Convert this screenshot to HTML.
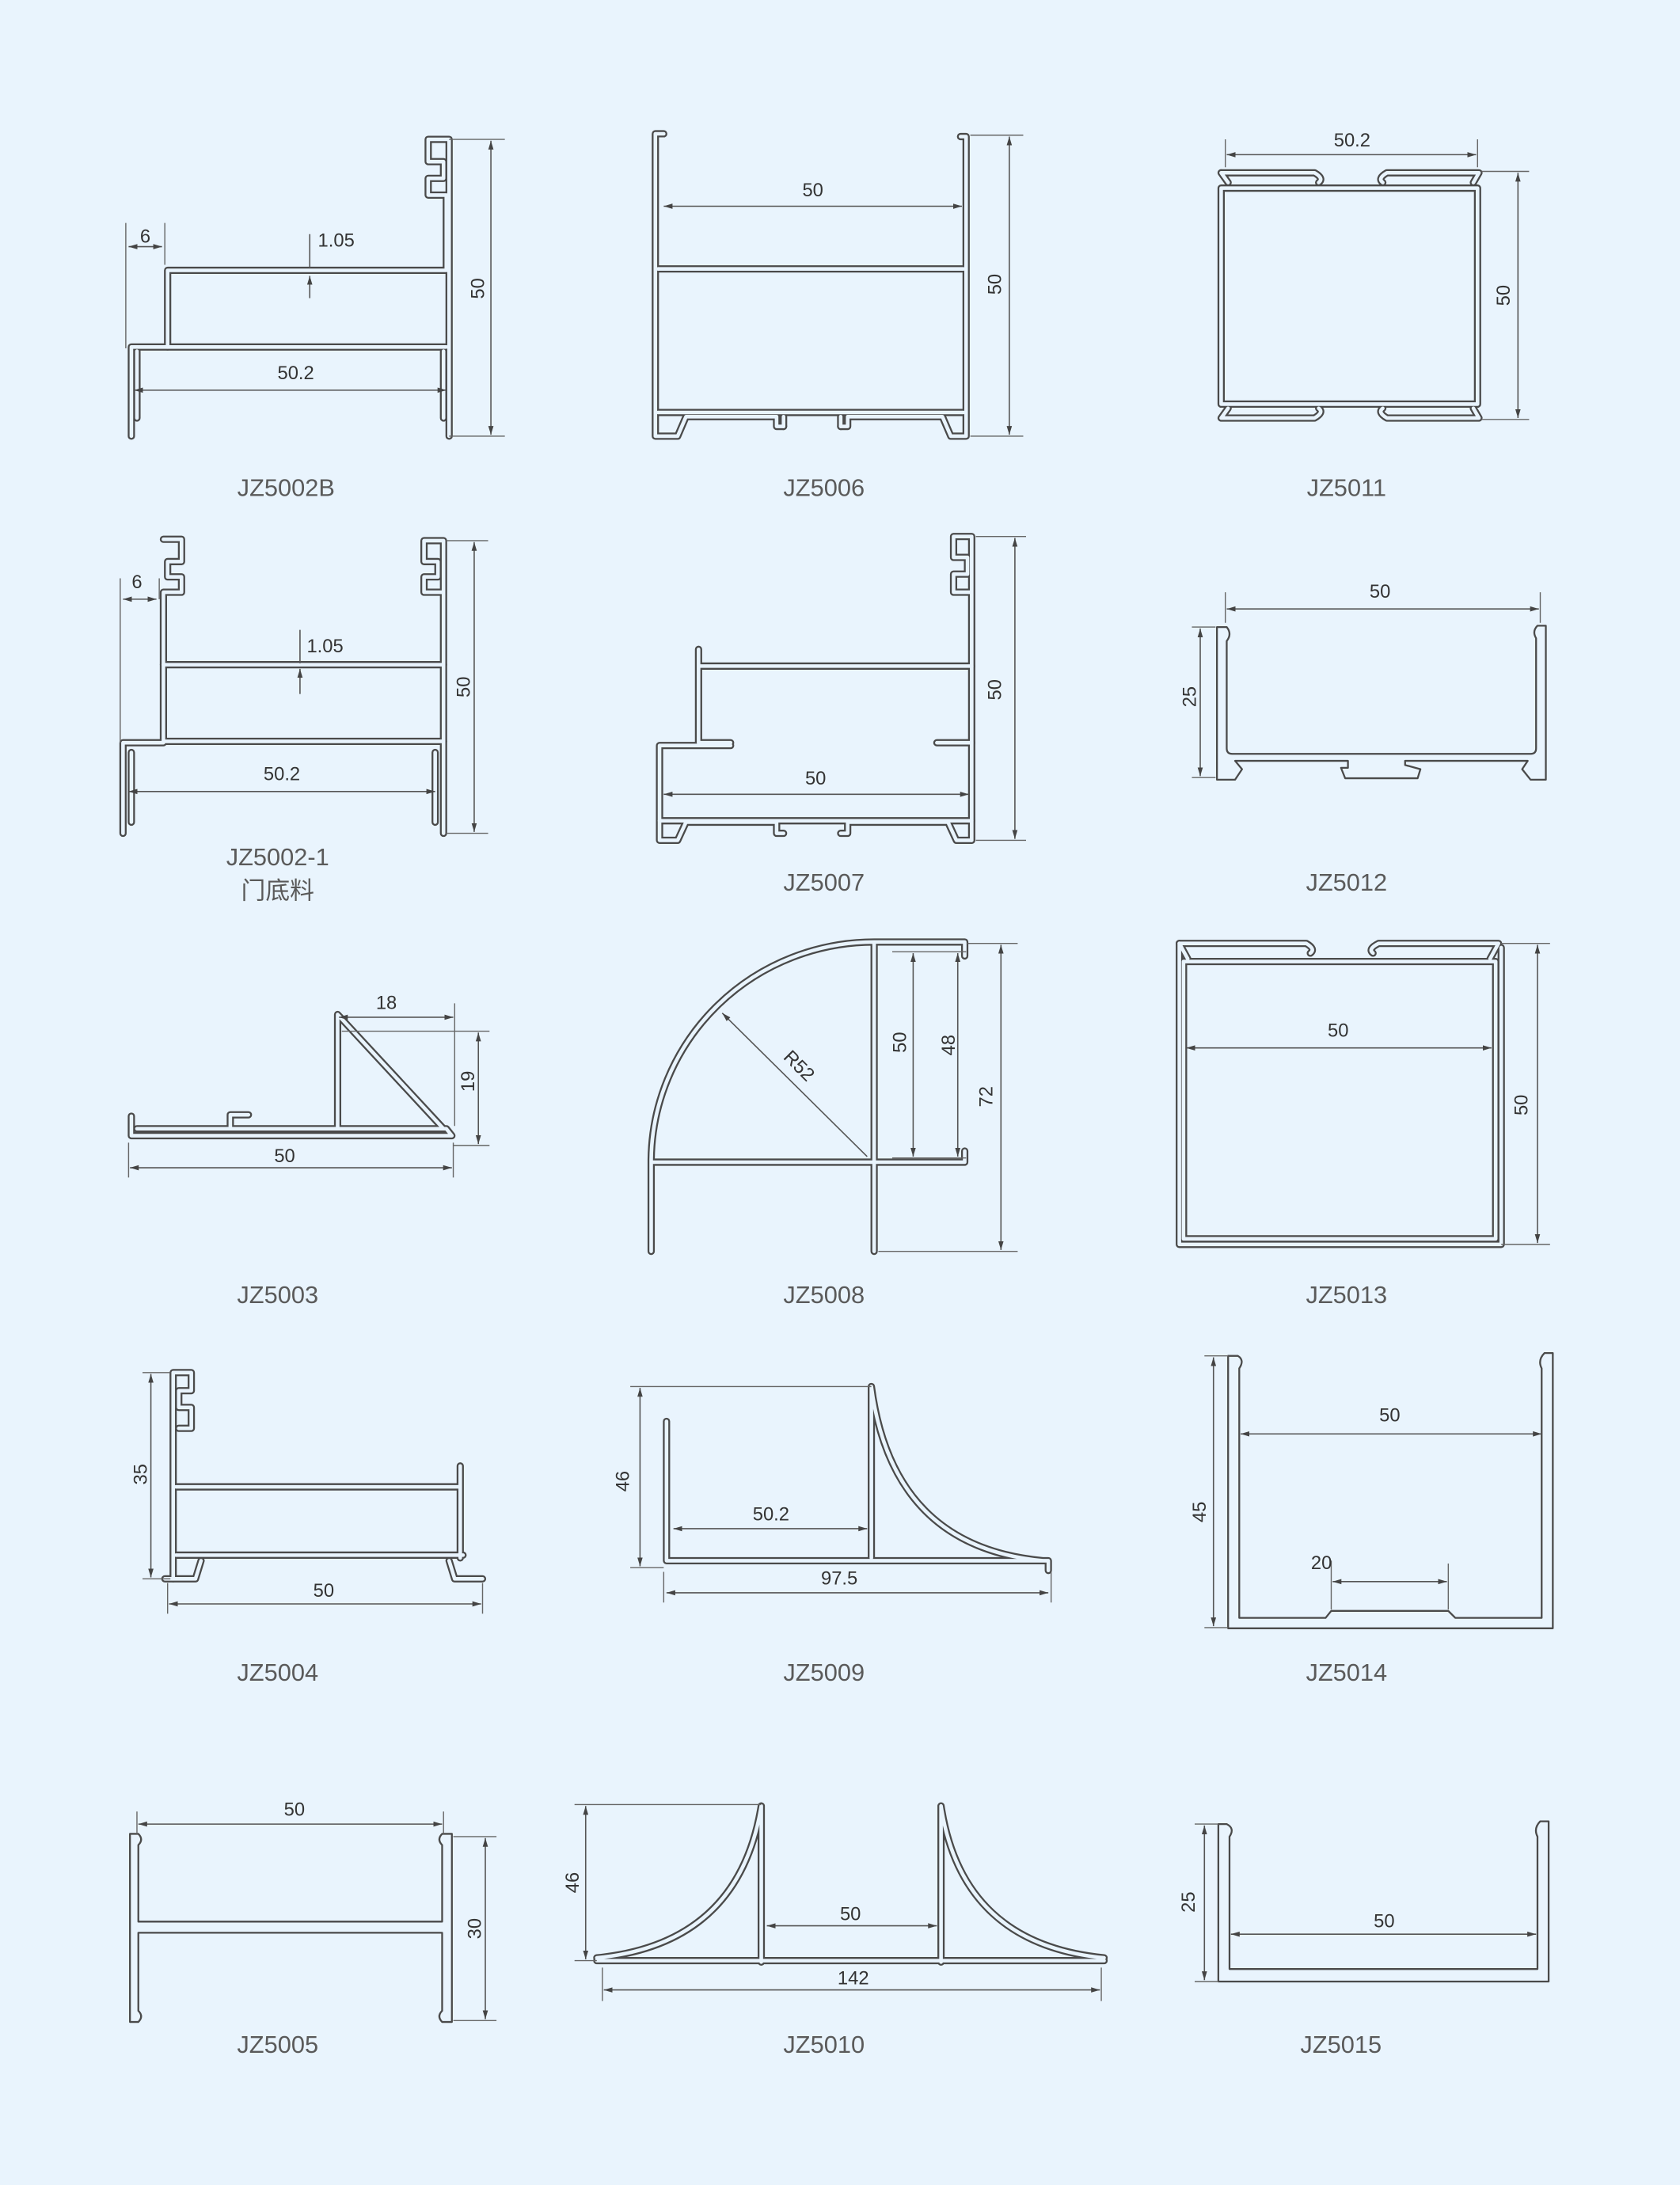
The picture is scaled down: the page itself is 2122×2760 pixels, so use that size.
<!DOCTYPE html>
<html><head><meta charset="utf-8"><style>
html,body{margin:0;padding:0;background:#e9f4fd;}
svg{display:block}
.o{fill:none;stroke:#4a4a4a;stroke-width:5.2;stroke-linejoin:round;stroke-linecap:round}
.i{fill:none;stroke:#e9f4fd;stroke-width:2.6;stroke-linejoin:round;stroke-linecap:round}
.s{fill:none;stroke:#4a4a4a;stroke-width:1.3;stroke-linejoin:round}
.d{stroke:#555;stroke-width:0.9;fill:none}
.e{stroke:#666;stroke-width:0.8;fill:none}
text{font-family:"Liberation Sans","Noto Sans CJK SC",sans-serif;fill:#333}
.t{font-size:13.5px;text-anchor:middle}
.l{font-size:17.5px;fill:#5a5a5a;text-anchor:middle}
</style></head><body>
<svg width="2122" height="2760" viewBox="0 0 1205 1568" xmlns="http://www.w3.org/2000/svg">
<defs>
<marker id="a" viewBox="0 0 10 10" refX="10" refY="5" markerWidth="7" markerHeight="7" orient="auto-start-reverse"><path d="M0,2 L10,5 L0,8z" fill="#444"/></marker>
</defs>
<rect width="1205" height="1568" fill="#e9f4fd"/>
<g id="walls">
<!-- JZ5002B -->
<path d="M94,313 V249 H120 V194 H320 V140 H307 V128 H318 V116 H307 V100 H322 V313"/>
<path d="M120,249 H320"/>
<path d="M98,252 V300 M318,252 V300"/>
<!-- JZ5006 -->
<path d="M476,96 H470 V313 H486 L492,299 H557 V306 H562 M603,306 H608 V299 H676 L682,313 H693 V98 H689"/>
<path d="M472,193 H691 M472,296 H691"/>
<path d="M562,299 V306 M603,299 V306"/>
<!-- JZ5011 -->
<path d="M876,135 H1060 V290 H876 Z"/>
<path d="M876,124 L881,131 M876,124 H943 Q950,128 946,131 M992,131 Q988,128 995,124 H1061 L1057,131"/>
<path d="M876,300 L881,293 M876,300 H943 Q950,296 946,293 M992,293 Q988,296 995,300 H1061 L1057,293"/>
<!-- JZ5002-1 -->
<path d="M88,598 V533 H117 V425 H130 V414 H120 V403 H130 V387 H117"/>
<path d="M117,477 H318 M117,532 H318"/>
<path d="M318,598 V388 H304 V403 H314 V414 H304 V425 H318"/>
<path d="M94,540 V590 M312,540 V590"/>
<!-- JZ5007 -->
<path d="M697,603 V385 H684 V400 H694 V412 H684 V425 H697"/>
<path d="M501,466 V533 H524 M501,478 H697 M672,533 H697"/>
<path d="M524,535 H473 V603 H486 L492,590 H557 V598 H562 M603,598 H608 V590 H680 L686,603 H697"/>
<path d="M473,589 H697"/>
<!-- JZ5003 -->
<path d="M94,801 V815 H324 L320,810 H98"/>
<path d="M165,810 V800 H178 M242,810 V728 L318,810"/>
<!-- JZ5008 -->
<path d="M467,898 V832 A160,158 0 0 1 627,676 H692 V686 M627,676 V898 M467,834 H692 V826"/>
<!-- JZ5013 -->
<path d="M849,690 H1073 V889 H849 Z"/>
<path d="M846,677 L852,688 M846,677 H937 Q944,681 940,684 M985,684 Q981,681 989,677 H1075 L1069,688"/>
<path d="M846,677 V893 H1077 V680"/>
<!-- JZ5004 -->
<path d="M124,1133 V985 H137 V998 H128 V1010 H137 V1025 H128"/>
<path d="M126,1067 H330 V1052 M126,1116 H332 M330,1067 V1118"/>
<path d="M118,1133 H140 L144,1120 M322,1120 L326,1133 H346"/>
<!-- JZ5009 -->
<path d="M478,1020 V1120 H752 V1127 M625,995 V1118 M625,995 Q640,1110 748,1120"/>
<!-- JZ5010 -->
<path d="M546,1296 V1408 M546,1296 Q530,1395 428,1405 M675,1296 V1408 M675,1296 Q690,1395 792,1405 M428,1407 H792"/>
</g>
<g class="s">
<!-- JZ5012 -->
<path d="M873,450 V559.5 H886 L891,552 L886,546 H967 V551 H962 L965,558.5 H1017 L1019,552 L1008,549 V546 H1096 L1092,552 L1098,559.5 H1109 V449 H1103 Q1099,453 1102,458 V537 Q1102,541 1098,541 H884 Q880,541 880,537 V460 Q884,455 880,450 Z"/>
<!-- JZ5014 -->
<path d="M881,973 V1168.5 H1114 V971 H1108 Q1103,976 1106,982 V1161 H1044 L1039,1156 H955 L951,1161 H889 V982 Q893,976 888,973 Z"/>
<!-- JZ5005 -->
<path d="M93,1316 V1451 H99 Q103,1447 99,1443 V1387 H317 V1443 Q313,1447 317,1451 H324 V1316 H317 Q313,1320 317,1324 V1379 H99 V1324 Q103,1320 99,1316 Z"/>
<!-- JZ5015 -->
<path d="M874,1309 V1422 H1111 V1307 H1105 Q1100,1312 1103,1318 V1413 H882 V1318 Q886,1312 880,1309 Z"/>
</g>
<!-- dimensions -->
<g class="d">
<path d="M90,160 V250 M118,160 V190 M362,100 H322 M362,313 H322" class="e"/>
<path d="M92,177 H116" marker-start="url(#a)" marker-end="url(#a)"/>
<path d="M222,168 V192 M222,214 V198" marker-end="url(#a)"/>
<path d="M96,280 H320" marker-start="url(#a)" marker-end="url(#a)"/>
<path d="M352,101 V312" marker-start="url(#a)" marker-end="url(#a)"/>
<path d="M476,148 H690" marker-start="url(#a)" marker-end="url(#a)"/>
<path d="M696,97 H734 M696,313 H734" class="e"/>
<path d="M724,98 V312" marker-start="url(#a)" marker-end="url(#a)"/>
<path d="M879,100 V120 M1060,100 V120" class="e"/>
<path d="M880,111 H1059" marker-start="url(#a)" marker-end="url(#a)"/>
<path d="M1063,123 H1097 M1063,301 H1097" class="e"/>
<path d="M1089,124 V300" marker-start="url(#a)" marker-end="url(#a)"/>
<path d="M86,415 V533 M114,415 V430" class="e"/>
<path d="M88,430 H112" marker-start="url(#a)" marker-end="url(#a)"/>
<path d="M215,452 V476 M215,498 V480" marker-end="url(#a)"/>
<path d="M92,568 H312" marker-start="url(#a)" marker-end="url(#a)"/>
<path d="M320,388 H350 M320,598 H350" class="e"/>
<path d="M340,389 V597" marker-start="url(#a)" marker-end="url(#a)"/>
<path d="M476,570 H695" marker-start="url(#a)" marker-end="url(#a)"/>
<path d="M700,385 H736 M700,603 H736" class="e"/>
<path d="M728,386 V602" marker-start="url(#a)" marker-end="url(#a)"/>
<path d="M879,425 V447 M1105,425 V447" class="e"/>
<path d="M880,437 H1104" marker-start="url(#a)" marker-end="url(#a)"/>
<path d="M855,450 H872 M855,558 H872" class="e"/>
<path d="M861,451 V557" marker-start="url(#a)" marker-end="url(#a)"/>
<path d="M326,720 V808" class="e"/>
<path d="M243,730 H325" marker-start="url(#a)" marker-end="url(#a)"/>
<path d="M245,740 H351 M325,822 H351" class="e"/>
<path d="M343,741 V821" marker-start="url(#a)" marker-end="url(#a)"/>
<path d="M92,820 V845 M325,820 V845" class="e"/>
<path d="M93,838 H324" marker-start="url(#a)" marker-end="url(#a)"/>
<path d="M518,727 L622,830" marker-start="url(#a)"/>
<path d="M640,683 H693 M640,831 H693" class="e"/>
<path d="M655,684 V830" marker-start="url(#a)" marker-end="url(#a)"/>
<path d="M687,684 V830" marker-start="url(#a)" marker-end="url(#a)"/>
<path d="M694,677 H730 M630,898 H730" class="e"/>
<path d="M718,678 V897" marker-start="url(#a)" marker-end="url(#a)"/>
<path d="M851,752 H1070" marker-start="url(#a)" marker-end="url(#a)"/>
<path d="M1077,677 H1112 M1077,893 H1112" class="e"/>
<path d="M1103,678 V892" marker-start="url(#a)" marker-end="url(#a)"/>
<path d="M102,985 H122 M102,1133 H122" class="e"/>
<path d="M108,986 V1132" marker-start="url(#a)" marker-end="url(#a)"/>
<path d="M120,1136 V1158 M346,1136 V1158" class="e"/>
<path d="M121,1151 H345" marker-start="url(#a)" marker-end="url(#a)"/>
<path d="M452,995 H625 M452,1125 H476" class="e"/>
<path d="M459,996 V1124" marker-start="url(#a)" marker-end="url(#a)"/>
<path d="M483,1097 H622" marker-start="url(#a)" marker-end="url(#a)"/>
<path d="M476,1128 V1150 M754,1128 V1150" class="e"/>
<path d="M478,1143 H752" marker-start="url(#a)" marker-end="url(#a)"/>
<path d="M864,973 H881 M864,1168 H881" class="e"/>
<path d="M870.5,974 V1167" marker-start="url(#a)" marker-end="url(#a)"/>
<path d="M890,1029 H1106" marker-start="url(#a)" marker-end="url(#a)"/>
<path d="M955,1120 V1155 M1039,1122 V1155" class="e"/>
<path d="M956,1135 H1038" marker-start="url(#a)" marker-end="url(#a)"/>
<path d="M98,1300 V1316 M318,1300 V1316" class="e"/>
<path d="M99,1309 H317" marker-start="url(#a)" marker-end="url(#a)"/>
<path d="M325,1318 H356 M325,1450 H356" class="e"/>
<path d="M348,1319 V1449" marker-start="url(#a)" marker-end="url(#a)"/>
<path d="M412,1295 H546 M412,1407 H428" class="e"/>
<path d="M420,1296 V1406" marker-start="url(#a)" marker-end="url(#a)"/>
<path d="M550,1382 H672" marker-start="url(#a)" marker-end="url(#a)"/>
<path d="M432,1412 V1436 M790,1412 V1436" class="e"/>
<path d="M433,1428 H789" marker-start="url(#a)" marker-end="url(#a)"/>
<path d="M857,1309 H874 M857,1422 H874" class="e"/>
<path d="M864,1310 V1421" marker-start="url(#a)" marker-end="url(#a)"/>
<path d="M883,1388 H1102" marker-start="url(#a)" marker-end="url(#a)"/>
</g>
<g>
<text class="t" x="104" y="174">6</text>
<text class="t" x="241" y="177">1.05</text>
<text class="t" x="212" y="272">50.2</text>
<text class="t" transform="translate(347,207) rotate(-90)">50</text>
<text class="t" x="583" y="141">50</text>
<text class="t" transform="translate(718,204) rotate(-90)">50</text>
<text class="t" x="970" y="105">50.2</text>
<text class="t" transform="translate(1083,212) rotate(-90)">50</text>
<text class="t" x="98" y="422">6</text>
<text class="t" x="233" y="468">1.05</text>
<text class="t" x="202" y="560">50.2</text>
<text class="t" transform="translate(337,493) rotate(-90)">50</text>
<text class="t" x="585" y="563">50</text>
<text class="t" transform="translate(718,495) rotate(-90)">50</text>
<text class="t" x="990" y="429">50</text>
<text class="t" transform="translate(858,500) rotate(-90)">25</text>
<text class="t" x="277" y="724">18</text>
<text class="t" transform="translate(340,776) rotate(-90)">19</text>
<text class="t" x="204" y="834">50</text>
<text class="t" transform="translate(570,768) rotate(45)">R52</text>
<text class="t" transform="translate(650,748) rotate(-90)">50</text>
<text class="t" transform="translate(685,750) rotate(-90)">48</text>
<text class="t" transform="translate(712,787) rotate(-90)">72</text>
<text class="t" x="960" y="744">50</text>
<text class="t" transform="translate(1096,793) rotate(-90)">50</text>
<text class="t" transform="translate(105,1058) rotate(-90)">35</text>
<text class="t" x="232" y="1146">50</text>
<text class="t" transform="translate(451,1063) rotate(-90)">46</text>
<text class="t" x="553" y="1091">50.2</text>
<text class="t" x="602" y="1137">97.5</text>
<text class="t" x="997" y="1020">50</text>
<text class="t" transform="translate(865,1085) rotate(-90)">45</text>
<text class="t" x="948" y="1126">20</text>
<text class="t" x="211" y="1303">50</text>
<text class="t" transform="translate(345,1384) rotate(-90)">30</text>
<text class="t" transform="translate(415,1351) rotate(-90)">46</text>
<text class="t" x="610" y="1378">50</text>
<text class="t" x="612" y="1424">142</text>
<text class="t" transform="translate(857,1365) rotate(-90)">25</text>
<text class="t" x="993" y="1383">50</text>
</g>
<g>
<text class="l" x="205" y="356">JZ5002B</text>
<text class="l" x="591" y="356">JZ5006</text>
<text class="l" x="966" y="356">JZ5011</text>
<text class="l" x="199" y="621">JZ5002-1</text>
<text class="l" x="199" y="645">门底料</text>
<text class="l" x="591" y="639">JZ5007</text>
<text class="l" x="966" y="639">JZ5012</text>
<text class="l" x="199" y="935">JZ5003</text>
<text class="l" x="591" y="935">JZ5008</text>
<text class="l" x="966" y="935">JZ5013</text>
<text class="l" x="199" y="1206">JZ5004</text>
<text class="l" x="591" y="1206">JZ5009</text>
<text class="l" x="966" y="1206">JZ5014</text>
<text class="l" x="199" y="1473">JZ5005</text>
<text class="l" x="591" y="1473">JZ5010</text>
<text class="l" x="962" y="1473">JZ5015</text>
</g>
</svg>
<script>
var w=document.getElementById('walls');
var c=w.cloneNode(true);c.removeAttribute('id');
w.setAttribute('class','o');c.setAttribute('class','i');
w.parentNode.insertBefore(c,w.nextSibling);
</script>
</body></html>
